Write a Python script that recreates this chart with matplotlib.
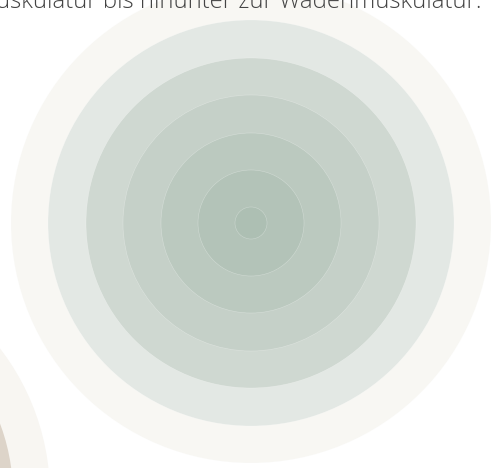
import matplotlib
matplotlib.use("Agg")
import matplotlib.pyplot as plt
from matplotlib.patches import Circle

# Concentric levels of the main circle (radius in px), outer -> inner
main_radii = [240, 203, 165, 128, 90, 53, 16]
main_colors = ["#f8f7f3", "#e3e8e4", "#cfd8d1", "#c5d0c8", "#bbc9bf", "#b3c3b8", "#adbfb3"]
main_center = (251, 223)

# Partially visible second circle (bottom-left)
side_radii = [240, 203]
side_colors = ["#f8f6f2", "#ddd4c9"]
side_center = (-190, 495)

caption = "uskulatur bis hinunter zur Wadenmuskulatur."

W, H = 500, 468
fig = plt.figure(figsize=(W / 100, H / 100), dpi=100)
ax = fig.add_axes([0, 0, 1, 1])
ax.set_xlim(0, W)
ax.set_ylim(H, 0)
ax.set_aspect("equal")
ax.axis("off")

for r, c in zip(main_radii, main_colors):
    ax.add_patch(Circle(main_center, r, facecolor=c, edgecolor=(1, 1, 1, 0.35),
                        linewidth=0.4, zorder=1))
for r, c in zip(side_radii, side_colors):
    ax.add_patch(Circle(side_center, r, facecolor=c, edgecolor="none", zorder=1))

ax.text(-4, 8, caption, fontsize=17.2, color="#444444", ha="left", va="baseline",
        family="Open Sans", fontweight="light", zorder=3)

fig.savefig("out.png", dpi=100, facecolor="white")
